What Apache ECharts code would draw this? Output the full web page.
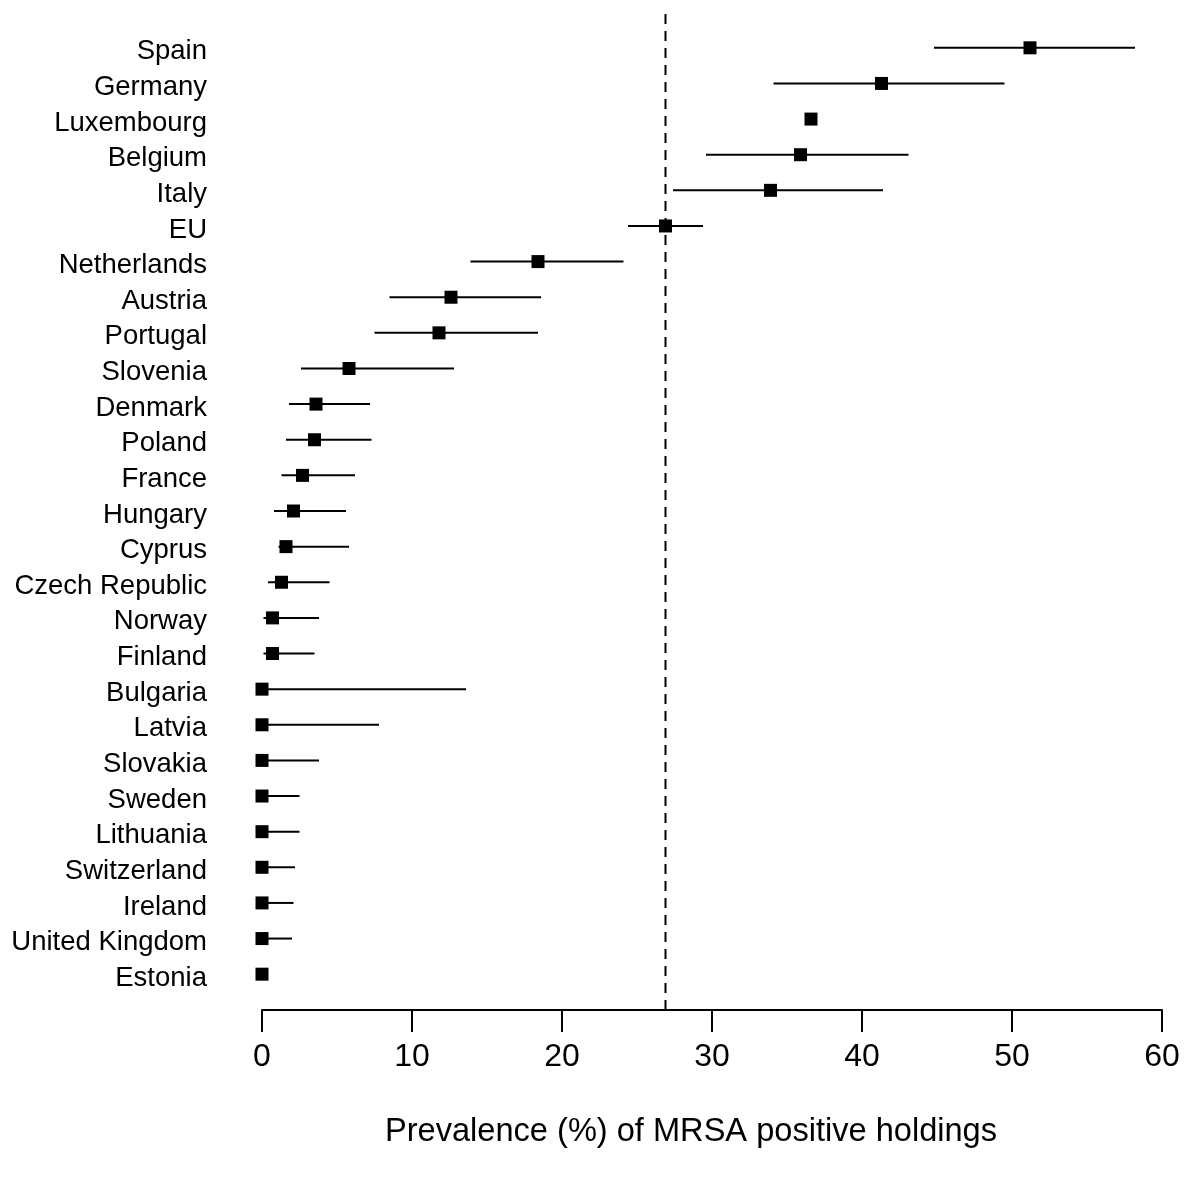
<!DOCTYPE html>
<html><head><meta charset="utf-8">
<script src="https://cdn.jsdelivr.net/npm/echarts@6/dist/echarts.min.js"></script>
<style>html,body{margin:0;padding:0;background:#fff}#c{width:1190px;height:1180px}</style>
</head><body><div id="c"></div>
<script>
const countries = ['Spain','Germany','Luxembourg','Belgium','Italy','EU','Netherlands','Austria','Portugal','Slovenia','Denmark','Poland','France','Hungary','Cyprus','Czech Republic','Norway','Finland','Bulgaria','Latvia','Slovakia','Sweden','Lithuania','Switzerland','Ireland','United Kingdom','Estonia'];
const prevalence = [51.2,41.3,36.6,35.9,33.9,26.9,18.4,12.6,11.8,5.8,3.6,3.5,2.7,2.1,1.6,1.3,0.7,0.7,0,0,0,0,0,0,0,0,0];
const ciLow = [44.8,34.1,null,29.6,27.4,24.4,13.9,8.5,7.5,2.6,1.8,1.6,1.3,0.8,1.1,0.4,0.1,0.1,0,0,0,0,0,0,0,0,null];
const ciHigh = [58.2,49.5,null,43.1,41.4,29.4,24.1,18.6,18.4,12.8,7.2,7.3,6.2,5.6,5.8,4.5,3.8,3.5,13.6,7.8,3.8,2.5,2.5,2.2,2.1,2.0,null];
const euReference = 26.9;
const xTicks = [0,10,20,30,40,50,60];
const xTitle = 'Prevalence (%) of MRSA positive holdings';

const ciData = [];
countries.forEach((c,i)=>{ if(ciLow[i]!==null && ciHigh[i]!==null) ciData.push([ciLow[i], ciHigh[i], i]); });
const pointData = countries.map((c,i)=>[prevalence[i], i]);

const chart = echarts.init(document.getElementById('c'), null, {renderer:'canvas'});
const FONT = '"Liberation Sans", Arial, sans-serif';
chart.setOption({
  backgroundColor:'#fff',
  animation:false,
  title:{text:xTitle,left:385,top:1116,padding:0,textStyle:{fontFamily:FONT,fontSize:32.6,fontWeight:'normal',color:'#000'}},
  grid:[
    {left:262,right:28,top:30,height:962},
    {left:262,right:28,top:10,bottom:170},
    {left:262,right:28,top:34,height:962}
  ],
  xAxis:[
    {gridIndex:0,type:'value',min:xTicks[0],max:xTicks[xTicks.length-1],interval:10,offset:18,
     axisLine:{show:true,lineStyle:{color:'#000',width:2}},
     axisTick:{show:true,length:22,lineStyle:{color:'#000',width:2}},
     axisLabel:{color:'#000',fontSize:32,fontFamily:FONT,margin:31},
     splitLine:{show:false}},
    {gridIndex:1,type:'value',min:0,max:60,show:false},
    {gridIndex:2,type:'value',min:0,max:60,show:false}
  ],
  yAxis:[
    {gridIndex:0,type:'category',inverse:true,data:countries,
     axisLine:{show:false},axisTick:{show:false},splitLine:{show:false},axisLabel:{show:false}},
    {gridIndex:1,type:'value',min:0,max:1,show:false},
    {gridIndex:2,type:'category',inverse:true,data:countries,
     axisLine:{show:false},axisTick:{show:false},splitLine:{show:false},
     axisLabel:{color:'#000',fontSize:27.5,fontFamily:FONT,margin:55,interval:0}}
  ],
  series:[
    {type:'line',xAxisIndex:1,yAxisIndex:1,data:[[euReference,0],[euReference,1]],symbol:'none',
     lineStyle:{color:'#000',width:2,type:[10,7]},z:1},
    {type:'custom',xAxisIndex:0,yAxisIndex:0,data:ciData,encode:{x:[0,1],y:2},z:2,
     renderItem:function(params,api){
       const a = api.coord([api.value(0), api.value(2)]);
       const b = api.coord([api.value(1), api.value(2)]);
       return {type:'line',shape:{x1:a[0],y1:a[1],x2:b[0],y2:b[1]},style:{stroke:'#000',lineWidth:2}};
     }},
    {type:'scatter',xAxisIndex:0,yAxisIndex:0,data:pointData,symbol:'rect',symbolSize:13,
     itemStyle:{color:'#000',opacity:1},z:3}
  ]
});
</script></body></html>
